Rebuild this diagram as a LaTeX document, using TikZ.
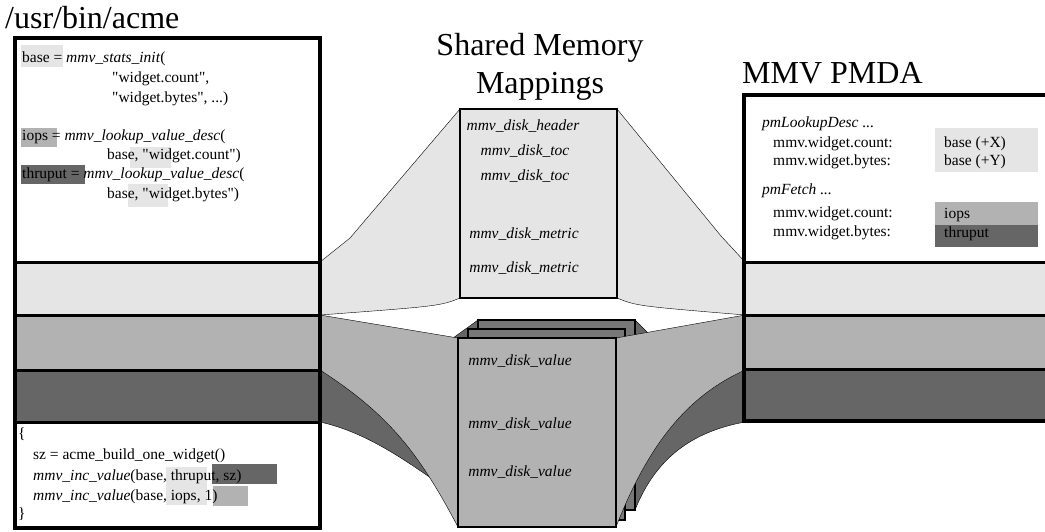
\documentclass[tikz,border=0pt]{standalone}
\usepackage{fontspec}
\setmainfont{Liberation Serif}
\definecolor{lite}{gray}{0.9}
\definecolor{midg}{gray}{0.7}
\definecolor{darkg}{gray}{0.4}
\definecolor{backg}{gray}{0.47}
\newcommand{\qt}[1]{\textquotedbl{}#1\textquotedbl{}}
\begin{document}
\begin{tikzpicture}[x=1pt,y=-1pt,
    txt/.style={anchor=base west,inner sep=0pt,font=\fontsize{15.5}{18}\selectfont},
    seg/.style={anchor=base,inner sep=0pt,font=\fontsize{15.5}{18}\selectfont\itshape},
    title/.style={anchor=base west,inner sep=0pt,font=\fontsize{32}{36}\selectfont},
    mapbox/.style={draw,line width=2pt,outer sep=0pt,inner sep=0pt}]
  \useasboundingbox (0,0) rectangle (1045,531);
  \clip (0,0) rectangle (1045,531);

  % shared memory boxes (placed first, drawn later)
  \path (538.5,203.5) node[minimum width=157pt,minimum height=189pt,outer sep=0pt] (hdr) {};
  \path (556.5,415) node[minimum width=157pt,minimum height=190pt,outer sep=0pt] (valc) {};
  \path (546.5,424.5) node[minimum width=157pt,minimum height=191pt,outer sep=0pt] (valb) {};
  \path (537,432.5) node[minimum width=158pt,minimum height=189pt,outer sep=0pt] (vala) {};

  % funnels, light
  \filldraw[fill=lite,thin] (320,262) -- (350,238) -- (hdr.north west) -- (hdr.south west)
      .. controls (440,306) .. (320,315) -- cycle;
  \filldraw[fill=lite,thin] (745,262) -- (721,236) -- (hdr.north east) -- (hdr.south east)
      .. controls (637,306) .. (745,315) -- cycle;
  % funnels, dark
  \filldraw[fill=darkg,thin] (320,370) -- (453,338) -- (valc.north west) -- (valc.south west)
      .. controls (430,480) and (380,435) .. (320,422) -- cycle;
  \filldraw[fill=darkg,thin] (745,370) -- (648,333) -- (valc.north east) -- (valc.south east)
      .. controls (655,460) and (690,432) .. (745,422) -- cycle;
  \path[mapbox,fill=backg] (valc.north west) rectangle (valc.south east);
  \path[mapbox,fill=backg] (valb.north west) rectangle (valb.south east);
  % funnels, medium
  \filldraw[fill=midg,thin] (320,315) -- (vala.north west) -- (vala.south west)
      .. controls (420,455) and (390,415) .. (320,370) -- cycle;
  \filldraw[fill=midg,thin] (745,315) -- (vala.north east) -- (vala.south east)
      .. controls (650,440) and (690,395) .. (745,370) -- cycle;
  \path[mapbox,fill=lite] (hdr.north west) rectangle (hdr.south east);
  \path[mapbox,fill=midg] (vala.north west) rectangle (vala.south east);

  % application box
  \fill[lite] (16,262) rectangle (318,315);
  \fill[midg] (16,315) rectangle (318,370);
  \fill[darkg] (16,370) rectangle (318,422);
  \draw[line width=3pt] (16,262) -- (318,262) (16,315) -- (318,315)
      (16,370) -- (318,370) (16,422) -- (318,422);
  \draw[line width=3.5pt] (15,38) rectangle (320,528);
  % pmda box
  \fill[lite] (745,262) rectangle (1045,315);
  \fill[midg] (745,315) rectangle (1045,369);
  \fill[darkg] (745,369) rectangle (1045,421);
  \draw[line width=3pt] (745,262) -- (1050,262) (745,315) -- (1050,315)
      (745,369) -- (1050,369);
  \draw[line width=3.5pt] (744,95) rectangle (1052,421);

  % highlights
  \fill[lite] (21,45) rectangle (63,67);
  \fill[midg] (21,128) rectangle (57,147);
  \fill[lite] (130,147) rectangle (171,168);
  \fill[darkg] (21,165) rectangle (85,184);
  \fill[lite] (128,184) rectangle (168,207);
  \fill[lite] (166,467) rectangle (207,505);
  \fill[darkg] (212,464) rectangle (277,484);
  \fill[midg] (213,486) rectangle (248,506);
  \fill[lite] (935,128) rectangle (1038,172);
  \fill[midg] (935,202) rectangle (1038,225);
  \fill[darkg] (935,225) rectangle (1038,247);

  % titles
  \node[title] (acme) at (5,28) {/usr/bin/acme};
  \node[title,anchor=base] (shm1) at (540,55) {Shared Memory};
  \node[title,anchor=base] (shm2) at (540,93) {Mappings};
  \node[title] (pmda) at (742,83) {MMV PMDA};

  % client code
  \node[txt] (init) at (22,62) {base = \textit{mmv\_stats\_init}(};
  \node[txt] (init2) at (112,82) {\qt{widget.count},};
  \node[txt] (init3) at (112,102) {\qt{widget.bytes}, ...)};
  \node[txt] (iops) at (22,140) {iops = \textit{mmv\_lookup\_value\_desc}(};
  \node[txt] (iops2) at (107,159) {base, \qt{widget.count})};
  \node[txt] (thru) at (22,178) {thruput = \textit{mmv\_lookup\_value\_desc}(};
  \node[txt] (thru2) at (107,198) {base, \qt{widget.bytes})};
  \node[txt] (open) at (18,438) {\{};
  \node[txt] (build) at (33,459) {sz = acme\_build\_one\_widget()};
  \node[txt] (inc1) at (33,480) {\textit{mmv\_inc\_value}(base, thruput, sz)};
  \node[txt] (inc2) at (33,500) {\textit{mmv\_inc\_value}(base, iops, 1)};
  \node[txt] (close) at (18,518) {\}};

  % mapping contents
  \node[seg] (hdrtxt) at (523,130) {mmv\_disk\_header};
  \node[seg] (toc1) at (525,155) {mmv\_disk\_toc};
  \node[seg] (toc2) at (525,180) {mmv\_disk\_toc};
  \node[seg] (met1) at (524,238) {mmv\_disk\_metric};
  \node[seg] (met2) at (524,272) {mmv\_disk\_metric};
  \node[seg] (val1) at (520,365) {mmv\_disk\_value};
  \node[seg] (val2) at (520,428) {mmv\_disk\_value};
  \node[seg] (val3) at (520,476) {mmv\_disk\_value};

  % pmda side
  \node[txt] (look) at (762,127) {\textit{pmLookupDesc ...}};
  \node[txt] (lcnt) at (773,147) {mmv.widget.count:};
  \node[txt] (lbyt) at (773,165) {mmv.widget.bytes:};
  \node[txt] (fetch) at (762,194) {\textit{pmFetch ...}};
  \node[txt] (fcnt) at (773,217) {mmv.widget.count:};
  \node[txt] (fbyt) at (773,236) {mmv.widget.bytes:};
  \node[txt] (basex) at (944,147) {base (+X)};
  \node[txt] (basey) at (944,165) {base (+Y)};
  \node[txt] (fiops) at (944,218) {iops};
  \node[txt] (fthru) at (944,237) {thruput};
\end{tikzpicture}
\end{document}
